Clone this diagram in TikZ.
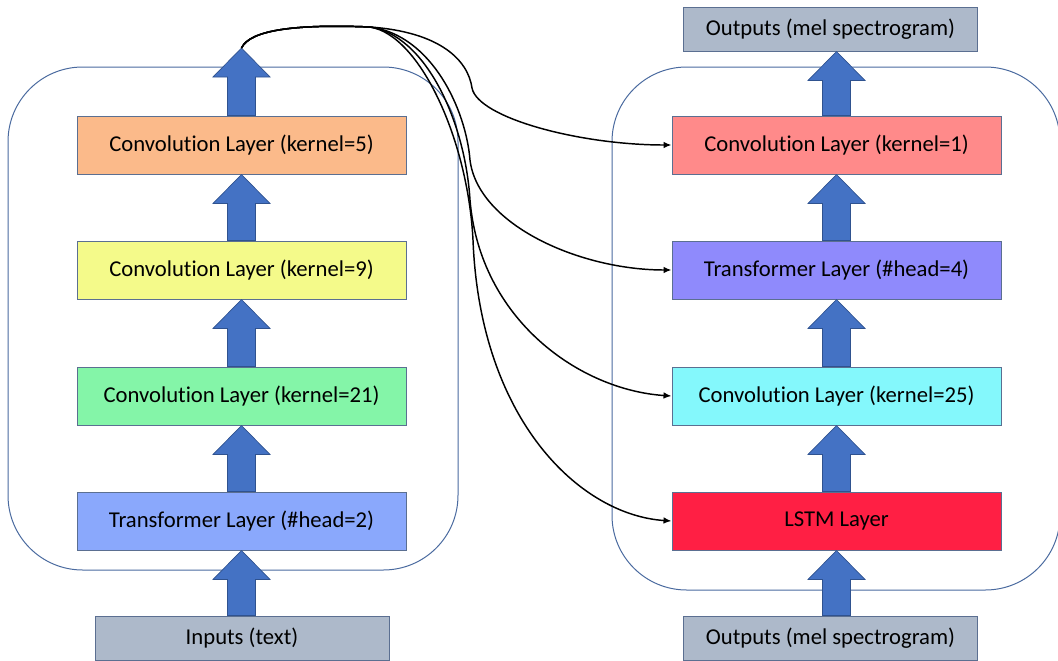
\documentclass[tikz,border=0pt]{standalone}
\usepackage{fontspec}
\setmainfont{Carlito}[Ligatures=NoCommon]
\usepackage{xcolor}
\usepackage{tikz}
\usetikzlibrary{arrows.meta,calc}

\definecolor{cOrange}{HTML}{FBBA8A}
\definecolor{cYellow}{HTML}{F4FA8A}
\definecolor{cGreen}{HTML}{84F5A8}
\definecolor{cBlue}{HTML}{8AA8FC}
\definecolor{cGray}{HTML}{ADB9CA}
\definecolor{cSalmon}{HTML}{FF8A8A}
\definecolor{cPurple}{HTML}{8F8AFC}
\definecolor{cCyan}{HTML}{84F8FC}
\definecolor{cRed}{HTML}{FF1F44}
\definecolor{cFrame}{HTML}{4A6A9F}
\definecolor{cEdge}{HTML}{5B6F91}
\definecolor{cArrow}{HTML}{4472C4}
\definecolor{cArrowEdge}{HTML}{2F528F}

% block arrow: #1 gives the base height, #2 the tip
\newcommand{\flowup}[2]{%
  \draw[blockarrow] let \p1=(#1), \p2=(#2) in
    (\x2-10.5pt,\y1) -- (\x2-10.5pt,\y2-21.75pt) -- (\x2-21.4pt,\y2-21.75pt)
    -- (\x2,\y2) -- (\x2+21.4pt,\y2-21.75pt) -- (\x2+10.5pt,\y2-21.75pt)
    -- (\x2+10.5pt,\y1) -- cycle;}

\begin{document}
\begin{tikzpicture}[
  x=0.75pt, y=-0.75pt,
  font=\fontsize{17}{20}\selectfont,
  layer/.style={rectangle, draw=cEdge, line width=0.75pt, minimum width=246.75pt, minimum height=43.5pt, inner sep=0pt},
  io/.style={rectangle, draw=cEdge, fill=cGray, line width=0.75pt, minimum width=220.5pt, minimum height=33pt, inner sep=0pt},
  container/.style={draw=cFrame, line width=0.75pt, rounded corners=56pt},
  blockarrow/.style={fill=cArrow, draw=cArrowEdge, line width=0.5pt},
  link/.style={-{Latex[length=6pt,width=5pt]}, line width=1.1pt}
]
\useasboundingbox (0,0) rectangle (1058,661);

% Containers
\draw[container] (8,67) rectangle (458,570);
\draw[container] (612,67) rectangle (1060,590);

% Encoder side
\node[layer, fill=cOrange] (conv5) at (241.5,145) {Convolution Layer (kernel=5)};
\node[layer, fill=cYellow] (conv9) at (241.5,270) {Convolution Layer (kernel=9)};
\node[layer, fill=cGreen] (conv21) at (241.5,396) {Convolution Layer (kernel=21)};
\node[layer, fill=cBlue] (trans2) at (241.5,521) {Transformer Layer (\#head=2)};
\node[io] (inputs) at (242,638) {Inputs (text)};

% Decoder side
\node[layer, fill=cSalmon] (conv1) at (836.5,145) {Convolution Layer (kernel=1)};
\node[layer, fill=cPurple] (trans4) at (836.5,270) {Transformer Layer (\#head=4)};
\node[layer, fill=cCyan] (conv25) at (836.5,396) {Convolution Layer (kernel=25)};
\node[layer, fill=cRed] (lstm) at (836.5,521) {LSTM Layer};
\node[io] (outtop) at (830.5,29) {Outputs (mel spectrogram)};
\node[io] (outbot) at (830.5,638) {Outputs (mel spectrogram)};

\coordinate (src) at (241.5,48);
\coordinate (hub) at (370,27);

% Block arrows
\flowup{inputs.north}{trans2.south}
\flowup{trans2.north}{conv21.south}
\flowup{conv21.north}{conv9.south}
\flowup{conv9.north}{conv5.south}
\flowup{conv5.north}{src}
\flowup{outbot.north}{lstm.south}
\flowup{lstm.north}{conv25.south}
\flowup{conv25.north}{trans4.south}
\flowup{trans4.north}{conv1.south}
\flowup{conv1.north}{conv1.north |- outtop.south}

% Links from encoder output
\draw[link] (src) .. controls (250,30) and (295,24) .. (hub)
  .. controls (440,32) and (468,60) .. (472,88)
  .. controls (478,118) and (580,145) .. (conv1.west);
\draw[link] (src) .. controls (250,30) and (295,24) .. (hub)
  .. controls (432,35) and (466,110) .. (470,160)
  .. controls (478,225) and (580,270) .. (trans4.west);
\draw[link] (src) .. controls (250,30) and (295,24) .. (hub)
  .. controls (425,35) and (465,120) .. (470,200)
  .. controls (480,320) and (580,390) .. (conv25.west);
\draw[link] (src) .. controls (250,30) and (295,24) .. (hub)
  .. controls (420,35) and (468,140) .. (473,240)
  .. controls (480,420) and (580,515) .. (lstm.west);

\end{tikzpicture}
\end{document}
